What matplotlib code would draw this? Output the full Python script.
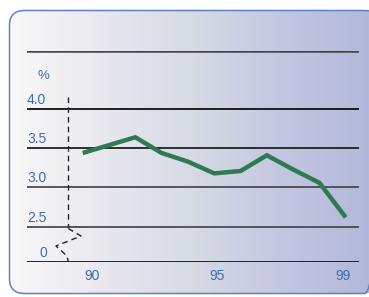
import numpy as np
import matplotlib
matplotlib.use("Agg")
import matplotlib.pyplot as plt
from matplotlib.patches import FancyBboxPatch
from matplotlib.colors import LinearSegmentedColormap
import matplotlib.transforms as mtransforms

# ---- data ----
years = [1989, 1990, 1991, 1992, 1993, 1994, 1995, 1996, 1997, 1998, 1999]
values = [3.44, 3.54, 3.64, 3.44, 3.33, 3.18, 3.21, 3.41, 3.23, 3.06, 2.62]
y_ticks = [2.5, 3.0, 3.5, 4.0]
y_tick_labels = ["2.5", "3.0", "3.5", "4.0"]
x_tick_labels = ["90", "95", "99"]
unit_label = "%"
zero_label = "0"

W, H = 369, 297
fig = plt.figure(figsize=(W / 100, H / 100), dpi=100)
fig.patch.set_facecolor("white")

# ---- background box with gradient ----
bg = fig.add_axes([0, 0, 1, 1])
bg.set_xlim(0, W)
bg.set_ylim(H, 0)
bg.axis("off")
cmap = LinearSegmentedColormap.from_list(
    "bg", [(0.0, "#f9f9f9"), (0.25, "#e9e9ef"), (0.5, "#d6dbe4"),
           (0.75, "#c4c7e1"), (1.0, "#b2b8da")])
grad = np.linspace(0, 1, 256).reshape(1, -1)
im = bg.imshow(grad, cmap=cmap, extent=[9, 372, 295, 10], aspect="auto", zorder=0)
box = FancyBboxPatch((9.5, 10.5), 370, 283, boxstyle="round,pad=0,rounding_size=15",
                     facecolor="none", edgecolor="#5b82c2", linewidth=1.1, zorder=2)
bg.add_patch(box)
im.set_clip_path(box)

# ---- chart axes (pixel geometry) ----
px_left, px_right = 27.0, 359.3
px_top, px_bottom = 50.7, 262.3
px_first, px_step = 82.7, 26.3          # x pixel of first point, px per year
px_40, px_per_unit = 109.0, 78.5        # y pixel of 4.0, px per 1.0

x0 = years[0] - (px_first - px_left) / px_step
x1 = years[-1] + (px_right - (px_first + px_step * (len(years) - 1))) / px_step
ytop = 4.0 + (px_40 - px_top) / px_per_unit
ybot = 4.0 - (px_bottom - px_40) / px_per_unit

ax = fig.add_axes([px_left / W, 1 - px_bottom / H,
                   (px_right - px_left) / W, (px_bottom - px_top) / H])
ax.set_xlim(x0, x1)
ax.set_ylim(ybot, ytop)
ax.patch.set_alpha(0)
for s in ax.spines.values():
    s.set_visible(False)
ax.set_xticks([])
ax.set_yticks([])

grid_cols = {2.5: "#4a4a52", 3.0: "#4a4a52", 3.5: "#202020", 4.0: "#101010"}
for v in y_ticks:
    ax.axhline(v, color=grid_cols[v], lw=1.3, zorder=1)
ax.axhline(ytop, color="#45454c", lw=1.8, zorder=1)
ax.axhline(ybot, color="#151515", lw=1.3, zorder=1)

blue = "#3f6cae"
fs = 10
# y tick labels above gridlines
for v, lab in zip(y_ticks, y_tick_labels):
    tr = mtransforms.offset_copy(ax.get_yaxis_transform(), fig=fig, x=0, y=1.5, units="points")
    ax.text(0, v, lab, transform=tr, ha="left", va="bottom", color=blue, fontsize=fs,
            family="Liberation Sans")
tr = mtransforms.offset_copy(ax.get_yaxis_transform(), fig=fig, x=14.5, y=1.5, units="points")
ax.text(0, ybot, zero_label, transform=tr, ha="right", va="bottom", color=blue, fontsize=fs,
        family="Liberation Sans")
tr = mtransforms.offset_copy(ax.get_yaxis_transform(), fig=fig, x=11.5, y=0, units="points")
ax.text(0, 4.0 + 33 / px_per_unit, unit_label, transform=tr, ha="center", va="center",
        color=blue, fontsize=fs - 0.5, family="Liberation Sans")

# x tick labels
x_label_pos = [years[0] + (92 - px_first) / px_step,
               years[0] + (217 - px_first) / px_step,
               years[0] + (343 - px_first) / px_step]
trx = mtransforms.offset_copy(ax.get_xaxis_transform(), fig=fig, x=0, y=-10, units="points")
for xp, lab in zip(x_label_pos, x_tick_labels):
    ax.text(xp, 0, lab, transform=trx, ha="center", va="center", color=blue, fontsize=fs,
            family="Liberation Sans")

# dashed axis with break marker
xb = years[0] - (px_first - 68.3) / px_step
ax.plot([xb, xb], [4.0 + 12 / px_per_unit, 2.5], color="#222222", lw=1.0,
        ls=(0, (4, 3)), zorder=2)
zig_px = [(68.3, 228.5), (81, 236), (56, 246), (67, 256), (68.3, 262)]
zx = [years[0] - (px_first - p[0]) / px_step for p in zig_px]
zy = [4.0 - (p[1] - px_40) / px_per_unit for p in zig_px]
ax.plot(zx, zy, color="#222222", lw=1.0, ls=(0, (4, 3)), zorder=2, clip_on=False)

# data line
ax.plot(years, values, color="#2e7a52", lw=3.2, solid_joinstyle="miter",
        solid_capstyle="butt", zorder=3)

fig.savefig("out.png", dpi=100)
